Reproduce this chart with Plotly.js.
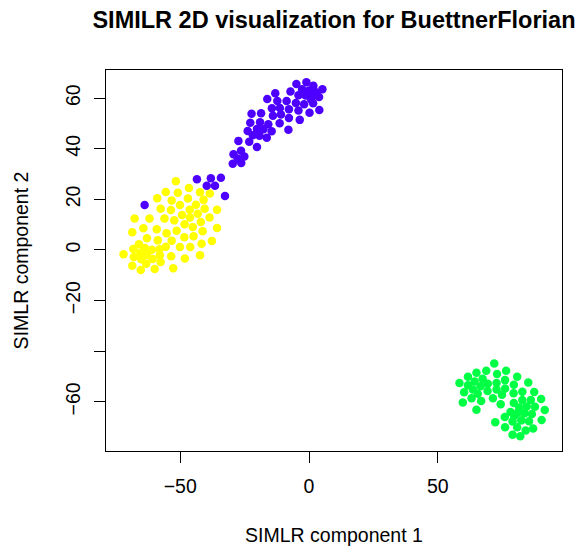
<!DOCTYPE html>
<html>
<head>
<meta charset="utf-8">
<script src="https://cdn.plot.ly/plotly-3.0.1.min.js"></script>
<style>html,body{margin:0;padding:0;background:#fff;}#chart{width:578px;height:546px;}</style>
</head>
<body>
<div id="chart"></div>
<script>
// Cluster 1 (yellow)
const yellowX = [-51.7,-46.6,-55.6,-50.9,-42.3,-38.5,-58.9,-53.3,-47.0,-40.9,-50.1,-43.9,-57.6,-53.6,-46.3,-40.5,-35.7,-67.7,-61.9,-56.1,-49.3,-43.2,-52.3,-46.2,-38.6,-42.0,-48.3,-45.1,-64.3,-59.1,-51.4,-68.6,-55.3,-41.3,-35.7,-62.9,-58.7,-53.3,-48.4,-44.8,-37.7,-66.0,-41.7,-68.2,-63.7,-55.6,-50.1,-46.1,-65.5,-61.0,-58.0,-72.0,-68.0,-62.9,-57.9,-65.1,-60.7,-53.5,-48.2,-42.3,-63.2,-57.6,-68.6,-65.3,-59.9,-52.7];
const yellowY = [27.2,24.5,22.9,22.6,22.8,22.3,20.4,19.6,20.3,19.8,17.8,17.9,16.3,15.8,15.9,16.3,15.9,12.4,12.4,12.4,13.8,14.3,11.7,12.8,12.8,11.1,10.2,9.1,8.6,8.2,7.6,7.0,6.6,7.4,8.7,4.6,3.8,3.7,5.0,5.4,3.6,2.3,2.5,0.4,0.8,1.3,1.2,1.2,-1.1,0.1,0.3,-1.7,-2.8,-2.0,-2.1,-3.7,-3.6,-2.5,-3.4,-2.1,-5.4,-4.7,-6.2,-7.9,-7.5,-7.2];
// Cluster 2 (purple)
const purpleX = [-4.9,-1.0,1.7,5.2,-2.7,0.0,2.7,-7.2,-4.1,-1.3,1.3,3.9,-13.1,-16.2,-12.3,-8.7,-5.1,-1.9,1.6,-14.4,-11.3,-7.8,-4.1,0.2,4.0,-22.3,-18.6,-14.0,-10.9,-7.8,-3.6,-22.8,-19.0,-15.8,-11.4,-23.8,-20.2,-17.7,-14.5,-8.0,-21.8,-19.2,-16.4,-27.4,-23.2,-20.2,-26.4,-29.3,-25.1,-27.7,-29.6,-26.3,-34.2,-43.5,-38.1,-39.7,-36.5,-32.6,-63.8,-0.6,0.8];
const purpleY = [65.6,66.3,64.9,63.5,63.5,63.0,62.3,62.6,61.1,61.0,60.6,60.4,61.9,59.6,58.9,58.9,58.1,57.6,58.0,56.0,56.1,55.6,55.1,54.2,55.3,53.8,54.0,53.0,53.5,52.1,51.4,50.3,50.5,49.7,50.1,47.0,47.8,47.7,46.9,47.5,45.3,45.1,44.3,43.1,42.8,40.7,39.2,37.8,36.9,36.0,34.1,34.4,28.5,27.9,28.3,25.4,25.4,21.3,17.8,61.5,59.5];
// Cluster 3 (green)
const greenX = [71.9,61.7,65.0,68.8,76.5,73.0,80.8,58.4,64.3,67.4,69.4,72.8,76.1,79.5,85.1,61.7,66.6,63.6,69.3,72.8,76.1,60.2,65.5,74.9,79.4,82.8,87.4,63.1,66.8,71.4,79.5,82.8,86.1,90.1,59.7,74.4,81.6,84.5,87.7,65.0,78.2,81.0,83.7,86.5,91.5,76.0,79.6,90.3,72.3,79.0,82.4,85.4,76.1,80.8,84.1,87.0,79.0,82.0];
const greenY = [-44.8,-50.1,-48.5,-47.7,-47.7,-49.0,-50.1,-52.5,-51.9,-50.9,-52.8,-52.5,-51.4,-53.2,-52.3,-53.4,-53.8,-55.1,-55.7,-55.1,-54.7,-56.2,-56.8,-57.2,-56.6,-56.0,-56.1,-58.6,-59.6,-58.6,-60.4,-59.3,-59.3,-58.9,-60.2,-60.9,-62.2,-61.8,-61.9,-63.1,-64.0,-64.3,-64.5,-64.8,-63.2,-66.0,-65.6,-67.2,-68.0,-67.7,-67.3,-67.6,-70.0,-70.0,-71.3,-70.5,-73.0,-73.6];

const xTickVals = [-50, 0, 50];
const xTickText = ['\u221250', '0', '50'];
const yTickVals = [-60, -40, -20, 0, 20, 40, 60];
const yTickText = ['\u221260', '', '\u221220', '0', '20', '40', '60'];

const FONT = 'Liberation Sans, Arial, Helvetica, sans-serif';
const mk = (c) => ({ color: c, size: 8.5, line: { width: 0 } });

const traces = [
  { x: yellowX, y: yellowY, mode: 'markers', type: 'scatter', marker: mk('#FFFF00'), hoverinfo: 'x+y' },
  { x: purpleX, y: purpleY, mode: 'markers', type: 'scatter', marker: mk('#4D00FF'), hoverinfo: 'x+y' },
  { x: greenX, y: greenY, mode: 'markers', type: 'scatter', marker: mk('#00FF44'), hoverinfo: 'x+y' }
];

const axisCommon = {
  showgrid: false, zeroline: false,
  showline: true, mirror: true, linecolor: '#000', linewidth: 1,
  ticks: 'outside', ticklen: 11, tickwidth: 1, tickcolor: '#000',
  tickfont: { family: FONT, size: 19.5, color: '#000' }
};

const layout = {
  width: 578, height: 546,
  paper_bgcolor: '#fff', plot_bgcolor: '#fff',
  showlegend: false,
  margin: { l: 106, r: 16, t: 70, b: 95 },
  font: { family: FONT, color: '#000' },
  title: {
    text: '<b>SIMILR 2D visualization for BuettnerFlorian</b>',
    font: { family: FONT, size: 23.5, color: '#000' },
    x: 0.5, xref: 'paper', xanchor: 'center',
    y: 1 - 20 / 546, yref: 'container', yanchor: 'middle'
  },
  xaxis: Object.assign({}, axisCommon, {
    range: [-78.8, 98.2],
    tickmode: 'array', tickvals: xTickVals, ticktext: xTickText,
    ticklabelstandoff: 7,
    title: { text: 'SIMLR component 1', font: { family: FONT, size: 19.5, color: '#000' }, standoff: 31 }
  }),
  yaxis: Object.assign({}, axisCommon, {
    range: [-79.4, 71.1],
    tickmode: 'array', tickvals: yTickVals, ticktext: yTickText,
    tickangle: -90,
    ticklabelstandoff: 6,
    title: { text: 'SIMLR component 2', font: { family: FONT, size: 19.5, color: '#000' }, standoff: 28 }
  })
};

Plotly.newPlot('chart', traces, layout, { staticPlot: true, displayModeBar: false });
</script>
</body>
</html>
